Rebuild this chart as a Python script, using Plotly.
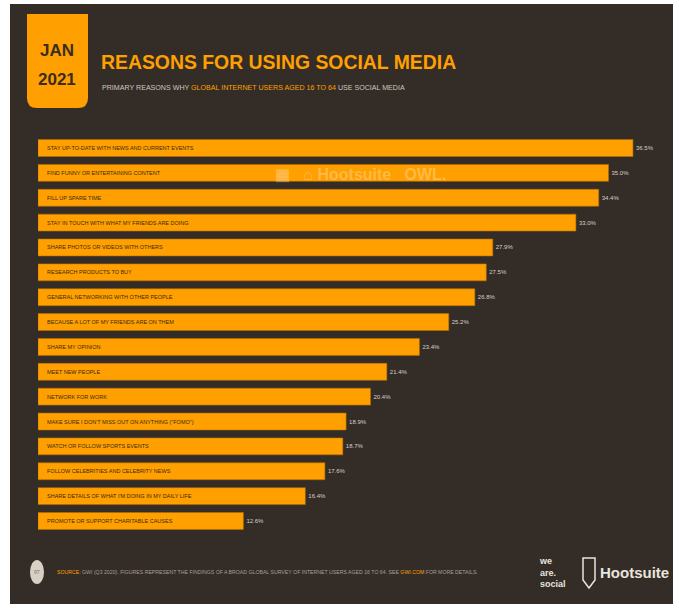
import plotly.graph_objects as go

W, H = 679, 608

reasons = [
    "STAY UP-TO-DATE WITH NEWS AND CURRENT EVENTS",
    "FIND FUNNY OR ENTERTAINING CONTENT",
    "FILL UP SPARE TIME",
    "STAY IN TOUCH WITH WHAT MY FRIENDS ARE DOING",
    "SHARE PHOTOS OR VIDEOS WITH OTHERS",
    "RESEARCH PRODUCTS TO BUY",
    "GENERAL NETWORKING WITH OTHER PEOPLE",
    "BECAUSE A LOT OF MY FRIENDS ARE ON THEM",
    "SHARE MY OPINION",
    "MEET NEW PEOPLE",
    "NETWORK FOR WORK",
    "MAKE SURE I DON'T MISS OUT ON ANYTHING (\"FOMO\")",
    "WATCH OR FOLLOW SPORTS EVENTS",
    "FOLLOW CELEBRITIES AND CELEBRITY NEWS",
    "SHARE DETAILS OF WHAT I'M DOING IN MY DAILY LIFE",
    "PROMOTE OR SUPPORT CHARITABLE CAUSES",
]
values = [36.5, 35.0, 34.4, 33.0, 27.9, 27.5, 26.8, 25.2, 23.4, 21.4, 20.4, 18.9, 18.7, 17.6, 16.4, 12.6]

BG = "#342c27"
ORANGE = "#FFA000"
FONT = "Liberation Sans Narrow, Arial Narrow, Liberation Sans, sans-serif"

fig = go.Figure()
fig.add_trace(go.Bar(
    x=values, y=reasons, orientation="h",
    marker=dict(color=ORANGE, line=dict(color="#b86e00", width=0.6)),
    width=0.68,
    text=[f"{v:.1f}%" for v in values],
    textposition="outside",
    textfont=dict(size=6, color="#d8d0c6", family=FONT),
    cliponaxis=False,
    hoverinfo="skip",
))

annotations = []
for r in reasons:
    annotations.append(dict(
        x=0, y=r, xref="x", yref="y", text=r, showarrow=False,
        xanchor="left", yanchor="middle", xshift=7,
        font=dict(size=5.5, color="#3b2a12", family=FONT),
    ))

def px(x, y):
    return x / W, 1 - y / H

# title
tx, ty = px(99, 62)
annotations.append(dict(x=tx, y=ty, xref="paper", yref="paper", xanchor="left", yanchor="middle",
    text="<b>REASONS FOR USING SOCIAL MEDIA</b>", showarrow=False,
    font=dict(size=19.4, color=ORANGE, family=FONT)))
sx, sy = px(100, 88)
annotations.append(dict(x=sx, y=sy, xref="paper", yref="paper", xanchor="left", yanchor="middle",
    text="PRIMARY REASONS WHY <span style='color:#FFA000'>GLOBAL INTERNET USERS AGED 16 TO 64</span> USE SOCIAL MEDIA",
    showarrow=False, font=dict(size=7.1, color="#cfc7bd", family=FONT)))
# JAN 2021
for txt, yy in [("JAN", 51), ("2021", 80)]:
    jx, jy = px(57, yy)
    annotations.append(dict(x=jx, y=jy, xref="paper", yref="paper", xanchor="center", yanchor="middle",
        text=f"<b>{txt}</b>", showarrow=False,
        font=dict(size=17, color="#3b2c1e", family=FONT)))
# watermark
wx, wy = px(360, 175)
annotations.append(dict(x=wx, y=wy, xref="paper", yref="paper", xanchor="center", yanchor="middle",
    text="<b>▦   ⌂ Hootsuite   OWL.</b>", showarrow=False,
    font=dict(size=16, color="rgba(255,255,255,0.28)", family="Liberation Sans, sans-serif")))
# footer
fx, fy = px(55, 572)
annotations.append(dict(x=fx, y=fy, xref="paper", yref="paper", xanchor="left", yanchor="middle",
    text="<span style='color:#FFA000'>SOURCE:</span> GWI (Q3 2020). FIGURES REPRESENT THE FINDINGS OF A BROAD GLOBAL SURVEY OF INTERNET USERS AGED 16 TO 64. SEE <span style='color:#FFA000'>GWI.COM</span> FOR MORE DETAILS.",
    showarrow=False, font=dict(size=5.2, color="#a89f95", family=FONT)))
cx, cy = px(37, 572)
annotations.append(dict(x=cx, y=cy, xref="paper", yref="paper", xanchor="center", yanchor="middle",
    text="97", showarrow=False, font=dict(size=5, color="#6e665e")))
lx, ly = px(537, 572)
annotations.append(dict(x=lx, y=ly, xref="paper", yref="paper", xanchor="left", yanchor="middle",
    text="<b>we<br>are.<br>social</b>", showarrow=False, align="left",
    font=dict(size=9, color="#e8e4de", family=FONT)))
hx, hy = px(598, 572)
annotations.append(dict(x=hx, y=hy, xref="paper", yref="paper", xanchor="left", yanchor="middle",
    text="<b>Hootsuite</b>", showarrow=False,
    font=dict(size=15, color="#e8e4de", family=FONT)))

shapes = [
    dict(type="rect", xref="paper", yref="paper", x0=10/W, x1=673/W, y0=1-604/H, y1=1-4/H,
         fillcolor=BG, line=dict(width=0), layer="below"),
    dict(type="path", xref="paper", yref="paper",
         path=f"M {27/W},{1-14/H} L {88/W},{1-14/H} L {88/W},{1-98/H} Q {88/W},{1-108/H} {78/W},{1-108/H} "
              f"L {37/W},{1-108/H} Q {27/W},{1-108/H} {27/W},{1-98/H} Z",
         fillcolor=ORANGE, line=dict(width=0), layer="below"),
    dict(type="circle", xref="paper", yref="paper", x0=30/W, x1=44/W, y0=1-584/H, y1=1-560/H,
         fillcolor="#d8d0c4", line=dict(width=0)),
    dict(type="path", xref="paper", yref="paper",
         path=f"M {583/W},{1-558/H} L {595/W},{1-558/H} L {595/W},{1-580/H} L {589/W},{1-588/H} L {583/W},{1-580/H} Z",
         fillcolor="rgba(0,0,0,0)", line=dict(color="#e8e4de", width=1.5)),
]

fig.update_layout(
    width=W, height=H, margin=dict(l=0, r=0, t=0, b=0),
    paper_bgcolor="white", plot_bgcolor="rgba(0,0,0,0)",
    showlegend=False, bargap=0.32,
    xaxis=dict(domain=[38/W, 1.0], range=[0, 641/16.3], visible=False, fixedrange=True),
    yaxis=dict(domain=[1-533.4/H, 1-135.6/H], autorange="reversed", visible=False,
               categoryorder="array", categoryarray=reasons),
    annotations=annotations, shapes=shapes,
)
fig.write_html("out.html")
